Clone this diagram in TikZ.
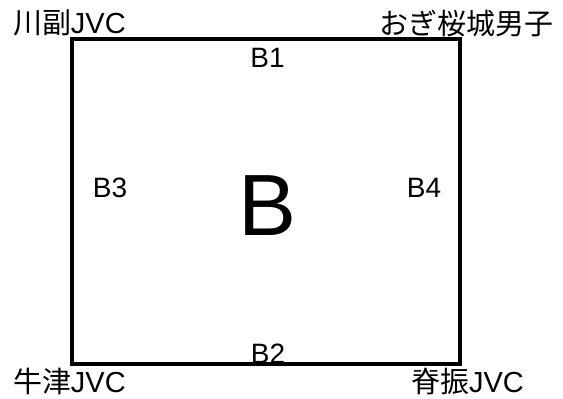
\documentclass[tikz,border=0pt]{standalone}
\usepackage{fontspec}
\setmainfont{Liberation Sans}
\newfontfamily\jp{Noto Sans CJK JP}
\begin{document}
\begin{tikzpicture}[x=1pt,y=-1pt,
  lbl/.style={inner sep=0pt, outer sep=0pt, font=\fontsize{28}{28}\selectfont},
  corner/.style={inner sep=0pt, outer sep=0pt, font=\fontsize{29}{29}\selectfont},
  big/.style={inner sep=0pt, outer sep=0pt, font=\fontsize{87}{87}\selectfont},
  field/.style={draw=black, line width=4pt, inner sep=0pt, minimum width=388pt, minimum height=325pt}]
\useasboundingbox (0,0) rectangle (563,399);
\node[corner, anchor=base west] (kawasoe) at (13,33) {{\jp 川副}JVC};
\node[corner, anchor=base east] (ogi) at (553,34) {{\jp おぎ桜城男子}};
\node[corner, anchor=base west] (ushizu) at (13,392) {{\jp 牛津}JVC};
\node[corner, anchor=base west] (sefuri) at (411,392) {{\jp 脊振}JVC};
\node[lbl, anchor=base] (b1) at (267.5,67) {B1};
\node[lbl, anchor=base] (b2) at (268,363) {B2};
\node[lbl, anchor=base] (b3) at (110,197) {B3};
\node[lbl, anchor=base] (b4) at (424,197) {B4};
\node[big, anchor=base] (bb) at (268,235) {B};
\node[field] (court) at (266,201.5) {};
\end{tikzpicture}
\end{document}
